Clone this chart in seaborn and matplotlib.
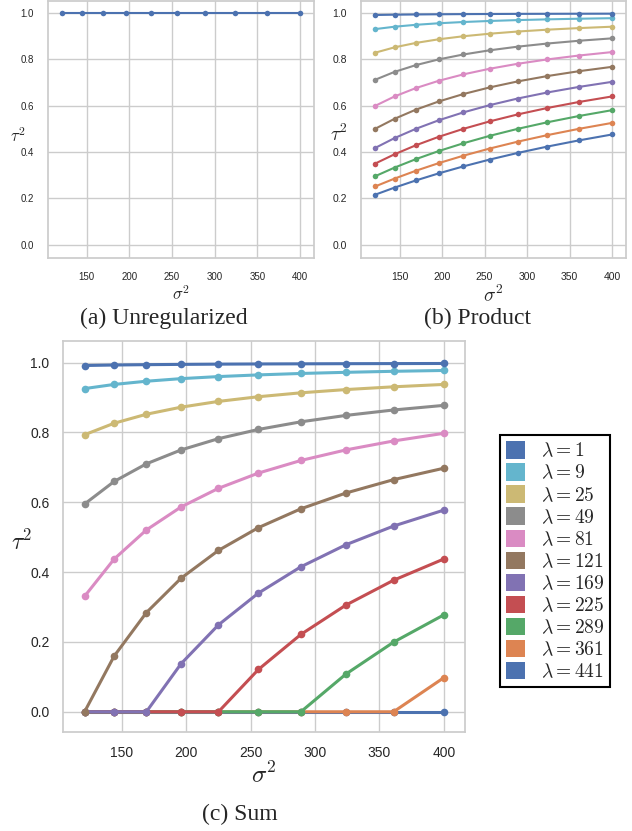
import matplotlib
matplotlib.use("Agg")
import matplotlib.pyplot as plt
from matplotlib.patches import Patch
import seaborn as sns
import pandas as pd

sigma2 = [121, 144, 169, 196, 225, 256, 289, 324, 361, 400]
lambdas = [441, 361, 289, 225, 169, 121, 81, 49, 25, 9, 1]

unreg = [1.0, 1.0, 1.0, 1.0, 1.0, 1.0, 1.0, 1.0, 1.0, 1.0]

product = {
    1:   [0.9918, 0.9931, 0.9941, 0.9949, 0.9956, 0.9961, 0.9966, 0.9969, 0.9972, 0.9975],
    9:   [0.9308, 0.9412, 0.9494, 0.9561, 0.9615, 0.9660, 0.9698, 0.9730, 0.9757, 0.9780],
    25:  [0.8288, 0.8521, 0.8711, 0.8869, 0.9000, 0.9110, 0.9204, 0.9284, 0.9352, 0.9412],
    49:  [0.7118, 0.7461, 0.7752, 0.8000, 0.8212, 0.8393, 0.8550, 0.8686, 0.8805, 0.8909],
    81:  [0.5990, 0.6400, 0.6760, 0.7076, 0.7353, 0.7596, 0.7811, 0.8000, 0.8167, 0.8316],
    121: [0.5000, 0.5434, 0.5828, 0.6183, 0.6503, 0.6790, 0.7049, 0.7281, 0.7490, 0.7678],
    169: [0.4172, 0.4601, 0.5000, 0.5370, 0.5711, 0.6024, 0.6310, 0.6572, 0.6811, 0.7030],
    225: [0.3497, 0.3902, 0.4289, 0.4656, 0.5000, 0.5322, 0.5623, 0.5902, 0.6160, 0.6400],
    289: [0.2951, 0.3326, 0.3690, 0.4041, 0.4377, 0.4697, 0.5000, 0.5285, 0.5554, 0.5806],
    361: [0.2510, 0.2851, 0.3189, 0.3519, 0.3840, 0.4149, 0.4446, 0.4730, 0.5000, 0.5256],
    441: [0.2153, 0.2462, 0.2770, 0.3077, 0.3378, 0.3673, 0.3959, 0.4235, 0.4501, 0.4756],
}

summ = {
    1:   [0.9917, 0.9931, 0.9941, 0.9949, 0.9956, 0.9961, 0.9965, 0.9969, 0.9972, 0.9975],
    9:   [0.9256, 0.9375, 0.9467, 0.9541, 0.9600, 0.9648, 0.9689, 0.9722, 0.9751, 0.9775],
    25:  [0.7934, 0.8264, 0.8521, 0.8724, 0.8889, 0.9023, 0.9135, 0.9228, 0.9307, 0.9375],
    49:  [0.5950, 0.6597, 0.7101, 0.7500, 0.7822, 0.8086, 0.8304, 0.8488, 0.8643, 0.8775],
    81:  [0.3306, 0.4375, 0.5207, 0.5867, 0.6400, 0.6836, 0.7197, 0.7500, 0.7756, 0.7975],
    121: [0.0, 0.1597, 0.2840, 0.3827, 0.4622, 0.5273, 0.5813, 0.6265, 0.6648, 0.6975],
    169: [0.0, 0.0, 0.0, 0.1378, 0.2489, 0.3398, 0.4152, 0.4784, 0.5319, 0.5775],
    225: [0.0, 0.0, 0.0, 0.0, 0.0, 0.1211, 0.2215, 0.3056, 0.3767, 0.4375],
    289: [0.0, 0.0, 0.0, 0.0, 0.0, 0.0, 0.0, 0.1080, 0.1994, 0.2775],
    361: [0.0, 0.0, 0.0, 0.0, 0.0, 0.0, 0.0, 0.0, 0.0, 0.0975],
    441: [0.0, 0.0, 0.0, 0.0, 0.0, 0.0, 0.0, 0.0, 0.0, 0.0],
}

captions = ["(a) Unregularized", "(b) Product", "(c) Sum"]

sns.set_theme(style="whitegrid")
plt.rcParams["font.family"] = ["Liberation Sans", "DejaVu Sans"]
plt.rcParams["mathtext.fontset"] = "cm"

deep = sns.color_palette("deep", 10)
labels = [str(l) for l in lambdas]
palette = {str(l): deep[i % 10] for i, l in enumerate(lambdas)}


def long_df(d):
    rows = []
    for l in lambdas:
        for s, v in zip(sigma2, d[l]):
            rows.append({"sigma2": s, "tau2": v, "lam": str(l)})
    return pd.DataFrame(rows)


fig = plt.figure(figsize=(6.32, 8.31), dpi=100)

ax_a = fig.add_axes([0.0759, 0.6895, 0.4209, 0.3095])
ax_b = fig.add_axes([0.5712, 0.6895, 0.4193, 0.3095])
ax_c = fig.add_axes([0.1002, 0.1191, 0.6356, 0.4706])

df_a = pd.DataFrame({"sigma2": sigma2, "tau2": unreg})
sns.lineplot(data=df_a, x="sigma2", y="tau2", ax=ax_a, color=deep[0],
             marker="o", markersize=4, markeredgewidth=0, linewidth=1.5)

sns.lineplot(data=long_df(product), x="sigma2", y="tau2", hue="lam",
             hue_order=labels, palette=palette, ax=ax_b, legend=False,
             marker="o", markersize=4, markeredgewidth=0, linewidth=1.5)

sns.lineplot(data=long_df(summ), x="sigma2", y="tau2", hue="lam",
             hue_order=labels, palette=palette, ax=ax_c, legend=False,
             marker="o", markersize=5.5, markeredgewidth=0, linewidth=2.2)

settings = [
    (ax_a, 7, 12, 12, (-0.112, 0.475)),
    (ax_b, 7.5, 14, 14, (-0.082, 0.48)),
    (ax_c, 10, 18, 17, (-0.103, 0.486)),
]
for ax, tsz, xlsz, ylsz, ypos in settings:
    ax.set_xlim(104.5, 416.5)
    ax.set_xticks([150, 200, 250, 300, 350, 400])
    ax.set_yticks([0.0, 0.2, 0.4, 0.6, 0.8, 1.0])
    ax.set_yticklabels(["0.0", "0.2", "0.4", "0.6", "0.8", "1.0"])
    ax.tick_params(labelsize=tsz, colors=".15", pad=4)
    ax.set_xlabel(r"$\sigma^2$", fontsize=xlsz, labelpad=2)
    ax.set_ylabel(r"$\tau^2$", fontsize=ylsz, rotation=0,
                  ha="center", va="center")
    ax.yaxis.set_label_coords(*ypos)
    for sp in ax.spines.values():
        sp.set_color(".8")

ax_a.set_ylim(-0.058, 1.053)
ax_b.set_ylim(-0.058, 1.053)
ax_c.set_ylim(-0.058, 1.062)

fig.text(0.2595, 0.617, captions[0], ha="center", va="center",
         fontsize=17, family="Liberation Serif")
fig.text(0.755, 0.617, captions[1], ha="center", va="center",
         fontsize=17, family="Liberation Serif")
fig.text(0.379, 0.0205, captions[2], ha="center", va="center",
         fontsize=17, family="Liberation Serif")

handles = [Patch(facecolor=palette[l], edgecolor="none",
                 label=r"$\lambda = %s$" % l) for l in labels[::-1]]
leg = fig.legend(handles=handles, loc="center", bbox_to_anchor=(0.878, 0.3245),
                 fontsize=14, frameon=True, fancybox=False, edgecolor="black",
                 framealpha=1, handlelength=1.0, handleheight=1.0,
                 labelspacing=0.14, handletextpad=0.8, borderpad=0.3,
                 borderaxespad=0)
leg.get_frame().set_linewidth(1.5)

fig.savefig("out.png", dpi=100)
